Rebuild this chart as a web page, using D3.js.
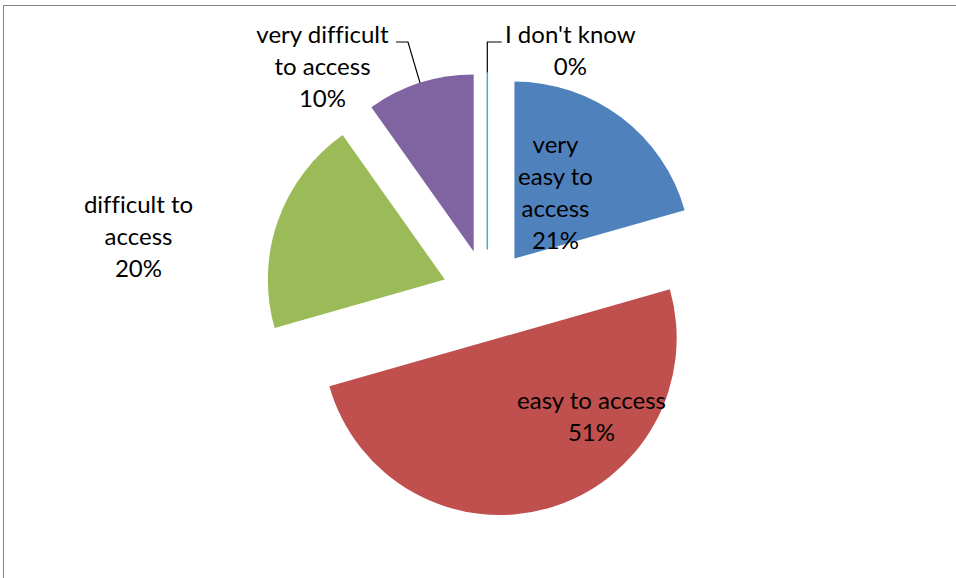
<!DOCTYPE html>
<html>
<head>
<meta charset="utf-8">
<script src="https://cdn.jsdelivr.net/npm/d3@7"></script>
<style>
  html, body { margin: 0; padding: 0; background: #ffffff; }
  svg { display: block; }
  text { font-variant-ligatures: none; }
</style>
</head>
<body>
<script>
// Survey answers: how easy is access
const categories = ["very easy to access", "easy to access", "difficult to access", "very difficult to access", "I don't know"];
const values = [21, 51, 20, 10, 0];
const colors = ["#4F81BD", "#C0504D", "#9BBB59", "#8064A2", "#4BACC6"];

const W = 956, H = 578;
const cx = 487.3, cy = 294.5;   // pie centre
const R = 177;                  // slice radius
const explode = 45;             // distance each slice is pulled out
const fontFamily = "Lato, 'Open Sans', sans-serif";
const fontSize = 24;
const lineH = 32;

// Label placement: wrapped lines, centre x, first baseline, optional leader
const labelLayout = [
  { lines: ["very", "easy to", "access"], x: 555.5, y: 153 },
  { lines: ["easy to access"], x: 591.5, y: 409 },
  { lines: ["difficult to", "access"], x: 138.5, y: 212.5 },
  { lines: ["very difficult", "to access"], x: 322.5, y: 42.5, leader: { x0: 396, y0: 42, elbowX: 408 } },
  { lines: ["I don't know"], x: 570.3, y: 42.5, leader: { x0: 501.7, y0: 42, elbowX: null } }
];

const svg = d3.select("body").append("svg")
  .attr("width", W).attr("height", H);

// chart frame
svg.append("rect")
  .attr("x", 3.5).attr("y", 5.5)
  .attr("width", W + 20).attr("height", H + 20)
  .attr("fill", "#ffffff")
  .attr("stroke", "#868686")
  .attr("stroke-width", 1);

const pie = d3.pie().sort(null).value(d => d)
  .startAngle(0).endAngle(2 * Math.PI);
const arcs = pie(values);
const arc = d3.arc().innerRadius(0).outerRadius(R);

function offset(a) {
  const mid = (a.startAngle + a.endAngle) / 2;
  return [Math.sin(mid) * explode, -Math.cos(mid) * explode];
}

const g = svg.append("g").attr("transform", `translate(${cx},${cy})`);

g.selectAll("path.slice")
  .data(arcs)
  .join("path")
  .attr("class", "slice")
  .attr("transform", d => { const [dx, dy] = offset(d); return `translate(${dx},${dy})`; })
  .attr("d", arc)
  .attr("fill", (d, i) => colors[i])
  .attr("stroke", (d, i) => d.value === 0 ? colors[i] : "none")
  .attr("stroke-width", (d) => d.value === 0 ? 1.5 : 0);

// leader lines from outside labels to the middle of each slice's rim
labelLayout.forEach((L, i) => {
  if (!L.leader) return;
  const a = arcs[i];
  const [dx, dy] = offset(a);
  const mid = (a.startAngle + a.endAngle) / 2;
  const px = cx + dx + Math.sin(mid) * R;
  const py = cy + dy - Math.cos(mid) * R;
  const ex = L.leader.elbowX == null ? px : L.leader.elbowX;
  svg.append("path")
    .attr("d", d3.line()([[L.leader.x0, L.leader.y0], [ex, L.leader.y0], [px, py]]))
    .attr("fill", "none")
    .attr("stroke", "#000000")
    .attr("stroke-width", 1.2);
});

// data labels: category name plus percentage
labelLayout.forEach((L, i) => {
  const t = svg.append("text")
    .attr("x", L.x).attr("y", L.y)
    .attr("text-anchor", "middle")
    .attr("font-family", fontFamily)
    .attr("font-size", fontSize)
    .attr("fill", "#000000");
  const lines = L.lines.concat([`${values[i]}%`]);
  lines.forEach((s, j) => {
    t.append("tspan").attr("x", L.x).attr("y", L.y + j * lineH).text(s);
  });
});
</script>
</body>
</html>
